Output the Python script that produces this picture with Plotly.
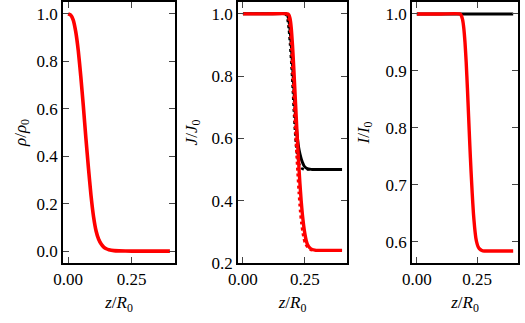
import plotly.graph_objects as go

# ---- data ----
z_rho = [0.00, 0.01, 0.02, 0.03, 0.04, 0.05, 0.06, 0.07, 0.08, 0.09, 0.10, 0.11, 0.12,
         0.13, 0.14, 0.15, 0.16, 0.18, 0.20, 0.25, 0.30, 0.35, 0.40]
rho = [1.000, 0.995, 0.975, 0.925, 0.845, 0.735, 0.61, 0.475, 0.35, 0.235, 0.145, 0.085,
       0.05, 0.03, 0.017, 0.010, 0.006, 0.002, 0.001, 0.0, 0.0, 0.0, 0.0]

z_jb = [0.00, 0.10, 0.175, 0.18, 0.185, 0.19, 0.195, 0.20, 0.205, 0.21, 0.215, 0.22, 0.225,
        0.23, 0.235, 0.24, 0.245, 0.25, 0.26, 0.27, 0.28, 0.30, 0.35, 0.40]
j_black = [1.0, 1.0, 1.0, 0.995, 0.98, 0.95, 0.90, 0.84, 0.77, 0.70, 0.64, 0.60, 0.57,
           0.55, 0.535, 0.523, 0.514, 0.508, 0.503, 0.501, 0.50, 0.50, 0.50, 0.50]

z_jbd = [0.00, 0.10, 0.17, 0.175, 0.18, 0.185, 0.19, 0.195, 0.20, 0.205, 0.21, 0.215, 0.22,
         0.225, 0.23, 0.235, 0.24, 0.25, 0.30, 0.35, 0.40]
j_black_dot = [1.0, 1.0, 1.0, 0.995, 0.98, 0.95, 0.90, 0.84, 0.77, 0.69, 0.62, 0.57, 0.54,
               0.522, 0.511, 0.505, 0.502, 0.50, 0.50, 0.50, 0.50]

z_jr = [0.00, 0.10, 0.18, 0.185, 0.19, 0.195, 0.20, 0.205, 0.21, 0.215, 0.22, 0.225, 0.23,
        0.235, 0.24, 0.245, 0.25, 0.255, 0.26, 0.27, 0.28, 0.29, 0.30, 0.35, 0.40]
j_red = [1.0, 1.0, 1.0, 0.997, 0.985, 0.955, 0.90, 0.83, 0.75, 0.67, 0.59, 0.52, 0.455,
         0.40, 0.355, 0.32, 0.293, 0.273, 0.26, 0.248, 0.243, 0.241, 0.24, 0.24, 0.24]

z_jrd = [0.00, 0.10, 0.175, 0.18, 0.185, 0.19, 0.195, 0.20, 0.205, 0.21, 0.215, 0.22, 0.225,
         0.23, 0.235, 0.24, 0.245, 0.25, 0.26, 0.27, 0.28, 0.35, 0.40]
j_red_dot = [1.0, 1.0, 1.0, 0.995, 0.98, 0.95, 0.89, 0.81, 0.73, 0.64, 0.56, 0.49, 0.425,
             0.37, 0.33, 0.30, 0.278, 0.263, 0.25, 0.243, 0.24, 0.24, 0.24]

z_i = [0.00, 0.40]
i_black = [1.0, 1.0]

z_ir = [0.00, 0.10, 0.18, 0.185, 0.19, 0.195, 0.20, 0.205, 0.21, 0.215, 0.22, 0.225, 0.23,
        0.235, 0.24, 0.245, 0.25, 0.255, 0.26, 0.27, 0.28, 0.30, 0.35, 0.40]
i_red = [1.0, 1.0, 1.0, 0.997, 0.99, 0.975, 0.95, 0.915, 0.87, 0.82, 0.77, 0.725, 0.685,
         0.65, 0.625, 0.607, 0.597, 0.591, 0.588, 0.585, 0.584, 0.584, 0.584, 0.584]

x_ticks = [0.0, 0.25]
y_ticks = [[0.0, 0.2, 0.4, 0.6, 0.8, 1.0], [0.2, 0.4, 0.6, 0.8, 1.0], [0.6, 0.7, 0.8, 0.9, 1.0]]
y_ranges = [[-0.05, 1.05], [0.1995, 1.038], [0.563, 1.021]]
y_titles = ["<i>ρ</i>/<i>ρ</i><sub>0</sub>", "<i>J</i>/<i>J</i><sub>0</sub>",
            "<i>I</i>/<i>I</i><sub>0</sub>"]
x_title = "<i>z</i>/<i>R</i><sub>0</sub>"

W, H = 525, 323
FONT = "Liberation Serif, DejaVu Serif, serif"
RED = "#ff0000"

fig = go.Figure()

def add(x, y, color, width, dash, idx):
    xa = "x" if idx == 1 else f"x{idx}"
    ya = "y" if idx == 1 else f"y{idx}"
    fig.add_trace(go.Scatter(x=x, y=y, mode="lines", xaxis=xa, yaxis=ya,
                             line=dict(color=color, width=width, dash=dash, shape="spline",
                                       smoothing=0.5),
                             showlegend=False, hoverinfo="skip"))

add(z_rho, rho, RED, 3.6, "solid", 1)
add(z_jbd, j_black_dot, "black", 2.4, "dot", 2)
add(z_jb, j_black, "black", 3.0, "solid", 2)
add(z_jrd, j_red_dot, RED, 2.4, "dot", 2)
add(z_jr, j_red, RED, 3.4, "solid", 2)
add(z_i, i_black, "black", 3.0, "solid", 3)
add(z_ir, i_red, RED, 3.4, "solid", 3)

x_dom = [[63 / W, 175 / W], [238 / W, 347 / W], [412 / W, 518 / W]]
y_dom = [1 - 263 / H, 1 - 2 / H]
y_standoff = [6, 10, 12]

layout = dict(width=W, height=H, margin=dict(l=0, r=0, t=0, b=0, autoexpand=False),
              paper_bgcolor="white", plot_bgcolor="white",
              font=dict(family=FONT, size=17, color="black"))

for i in range(3):
    sx = "" if i == 0 else str(i + 1)
    layout[f"xaxis{sx}"] = dict(
        domain=x_dom[i], anchor=f"y{sx}", range=[-0.02, 0.42], automargin=False,
        tickvals=x_ticks, tickformat=".2f", ticks="inside", ticklen=6, tickwidth=1.4,
        showline=True, linewidth=1.6, linecolor="black", mirror="ticks",
        showgrid=False, zeroline=False, tickfont=dict(family=FONT, size=17),
        title=dict(text=x_title, font=dict(family=FONT, size=17), standoff=8))
    layout[f"yaxis{sx}"] = dict(
        domain=y_dom, anchor=f"x{sx}", range=y_ranges[i], automargin=False,
        tickvals=y_ticks[i], tickformat=".1f", ticks="inside", ticklen=6, tickwidth=1.4,
        showline=True, linewidth=1.6, linecolor="black", mirror="ticks",
        showgrid=False, zeroline=False, tickfont=dict(family=FONT, size=17),
        title=dict(text=y_titles[i], font=dict(family=FONT, size=17),
                   standoff=y_standoff[i]))

fig.update_layout(**layout)
fig.write_html("out.html")
